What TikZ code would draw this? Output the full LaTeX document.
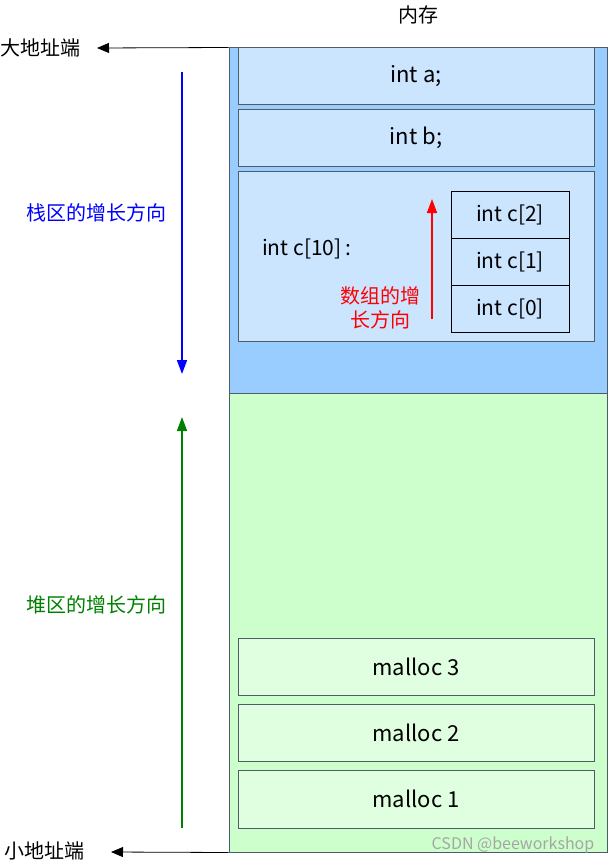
\documentclass[tikz,border=0pt]{standalone}
\usepackage{fontspec}
\setmainfont{Noto Sans CJK SC}
\usetikzlibrary{arrows.meta}
\definecolor{stackbg}{HTML}{99CCFF}
\definecolor{stackbox}{HTML}{CCE5FF}
\definecolor{heapbg}{HTML}{CCFFCC}
\definecolor{heapbox}{HTML}{E0FFE0}
\definecolor{boxline}{HTML}{4F5B66}
\definecolor{darkgreen}{HTML}{008000}
\tikzset{
  region/.style={draw=boxline, line width=1pt, inner sep=0pt},
  membox/.style={draw=boxline, line width=1pt, minimum width=356pt, inner sep=0pt, font=\fontsize{22}{24}\selectfont},
  cell/.style={draw=black, line width=1pt, fill=stackbox, minimum width=118pt, minimum height=47pt, inner sep=0pt, font=\fontsize{21}{24}\selectfont},
  lbl/.style={inner sep=0pt, font=\fontsize{20}{22}\selectfont},
  addrarrow/.style={line width=0.8pt, -{Triangle[length=12pt,width=10pt]}},
  growarrow/.style={line width=1.6pt, -{Triangle[length=14pt,width=10pt]}},
}
\begin{document}
\begin{tikzpicture}[x=1pt,y=-1pt]
\useasboundingbox (0,0) rectangle (608,864);
% regions
\node[region, fill=stackbg, minimum width=378pt, minimum height=345pt] (stack) at (418,220.5) {};
\node[region, fill=heapbg, minimum width=378pt, minimum height=459pt] (heap) at (418,622.5) {};
% stack boxes
\node[membox, fill=stackbox, minimum height=57pt] (ia) at (416,76.5) {int a;};
\node[membox, fill=stackbox, minimum height=56pt] (ib) at (416,138) {int b;};
\node[membox, fill=stackbox, minimum height=170pt] (ic) at (416,256) {};
\node[lbl, anchor=west, font=\fontsize{21}{24}\selectfont] (ictext) at (262,249) {int c[10]\,:};
\node[cell] (c2) at (510,214.5) {int c[2]};
\node[cell] (c1) at (510,261.5) {int c[1]};
\node[cell] (c0) at (510,308.5) {int c[0]};
\coordinate (rs) at (432,319);
\coordinate (re) at (432,199);
\draw[growarrow, red] (rs) -- (re);
\node[lbl, red, align=center, font=\fontsize{20}{24}\selectfont] (arrgrow) at (380,308) {数组的增\\长方向};
% heap boxes
\node[membox, fill=heapbox, minimum height=57pt] (m3) at (416,666.5) {malloc 3};
\node[membox, fill=heapbox, minimum height=57pt] (m2) at (416,732.5) {malloc 2};
\node[membox, fill=heapbox, minimum height=58pt] (m1) at (416,799) {malloc 1};
% titles
\node[lbl] (mem) at (418,15) {内存};
\node[lbl, anchor=west] (big) at (0,48) {大地址端};
\node[lbl, anchor=west] (small) at (4,851) {小地址端};
\coordinate (bigtip) at (97,48);
\coordinate (smalltip) at (111,852);
\draw[addrarrow] (stack.north west) -- (bigtip);
\draw[addrarrow] (heap.south west) -- (smalltip);
% growth arrows
\coordinate (bs) at (182,72);
\coordinate (be) at (182,374);
\draw[growarrow, blue] (bs) -- (be);
\node[lbl, blue] (stackgrow) at (96,213) {栈区的增长方向};
\coordinate (gs) at (182,828);
\coordinate (ge) at (182,417);
\draw[growarrow, darkgreen] (gs) -- (ge);
\node[lbl, darkgreen] (heapgrow) at (96,605) {堆区的增长方向};
% watermark
\node[inner sep=0pt, gray!70, font=\fontsize{16}{18}\selectfont] (wm) at (513,845) {CSDN @beeworkshop};
\end{tikzpicture}
\end{document}
